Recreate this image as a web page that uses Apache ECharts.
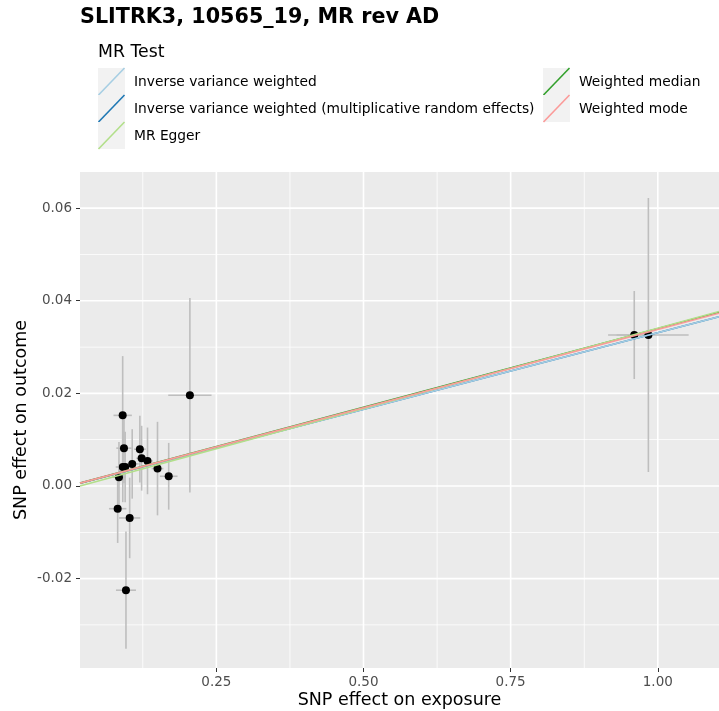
<!DOCTYPE html>
<html><head><meta charset="utf-8">
<script src="https://cdn.jsdelivr.net/npm/echarts@6/dist/echarts.min.js"></script>
<style>html,body{margin:0;padding:0;background:#fff}#c{width:719px;height:711px}</style>
</head><body><div id="c"></div>
<script>
// SNP effects
const snpExposure = [0.0908, 0.093, 0.120, 0.123, 0.133, 0.107, 0.091, 0.095, 0.150, 0.0845, 0.169, 0.0823, 0.1027, 0.0964, 0.205, 0.960, 0.984];
const snpOutcome  = [0.01525, 0.00817, 0.00795, 0.0060, 0.00542, 0.00477, 0.0041, 0.0041, 0.00376, 0.0019, 0.0021, -0.0049, -0.0069, -0.0225, 0.0196, 0.0326, 0.0326];
const seExposure  = [0.0156, 0.013, 0.010, 0.009, 0.009, 0.011, 0.012, 0.010, 0.010, 0.012, 0.015, 0.0148, 0.018, 0.017, 0.0368, 0.030, 0.0684];
const seOutcome   = [0.0128, 0.0076, 0.0072, 0.0070, 0.0072, 0.0075, 0.0076, 0.0076, 0.0101, 0.0076, 0.0072, 0.0074, 0.0087, 0.01265, 0.021, 0.0095, 0.0296];

// MR methods
const methodNames = ['Inverse variance weighted', 'Inverse variance weighted (multiplicative random effects)', 'MR Egger', 'Weighted median', 'Weighted mode'];
const methodSlopes = [0.0331, 0.0331, 0.0347, 0.0340, 0.0338];
const methodIntercepts = [0, 0, -0.00064, 0, 0];
const methodColors = ['#A6CEE3', '#1F78B4', '#B2DF8A', '#33A02C', '#FB9A99'];
const drawOrder = [1, 0, 3, 2, 4];

// axes
const xTicks = [0.25, 0.5, 0.75, 1.0];
const xMinorGrid = [0.125, 0.375, 0.625, 0.875];
const yTicks = [-0.02, 0, 0.02, 0.04, 0.06];
const yMinorGrid = [-0.03, -0.01, 0.01, 0.03, 0.05];
const xRange = [0.0183, 1.104];
const yRange = [-0.0393, 0.0678];

const FONT = 'DejaVu Sans';
const chart = echarts.init(document.getElementById('c'), null, {renderer: 'canvas'});

const errData = snpExposure.map((x, i) => [x, snpOutcome[i], seExposure[i], seOutcome[i]]);

const lineSeries = drawOrder.map(i => ({
  type: 'line', name: methodNames[i], z: 6, silent: true, animation: false,
  showSymbol: false, symbol: 'none',
  lineStyle: {color: methodColors[i], width: 1.6},
  data: xRange.map(x => [x, methodIntercepts[i] + methodSlopes[i] * x])
}));

const graphics = [{
  type: 'text', left: 98, top: 44,
  style: {text: 'MR Test', font: '17.3px "DejaVu Sans"', fill: '#000'}
}];
methodNames.forEach((name, i) => {
  const col = i < 3 ? 0 : 1, row = i % 3;
  const bx = [98, 543][col], by = 68 + row * 27;
  graphics.push({type: 'rect', shape: {x: bx, y: by, width: 27, height: 27}, style: {fill: '#F2F2F2'}});
  graphics.push({type: 'line', shape: {x1: bx + 0.5, y1: by + 27, x2: bx + 26.5, y2: by}, style: {stroke: methodColors[i], lineWidth: 1.6}});
  graphics.push({type: 'text', x: [134, 579][col], y: by + 14.5,
    style: {text: name, font: '13.8px "DejaVu Sans"', fill: '#000', verticalAlign: 'middle'}});
});

function gridRenderer(params, api) {
  const cs = params.coordSys;
  const children = [];
  const vLine = (v, w) => {
    const p = api.coord([v, (yRange[0] + yRange[1]) / 2]);
    children.push({type: 'rect', shape: {x: p[0] - w / 2, y: cs.y, width: w, height: cs.height}, style: {fill: '#fff'}});
  };
  const hLine = (v, w) => {
    const p = api.coord([(xRange[0] + xRange[1]) / 2, v]);
    children.push({type: 'rect', shape: {x: cs.x, y: p[1] - w / 2, width: cs.width, height: w}, style: {fill: '#fff'}});
  };
  yMinorGrid.forEach(v => hLine(v, 0.8));
  xMinorGrid.forEach(v => vLine(v, 0.8));
  yTicks.forEach(v => hLine(v, 1.6));
  xTicks.forEach(v => vLine(v, 1.6));
  return {type: 'group', children};
}

chart.setOption({
  animation: false,
  backgroundColor: '#fff',
  title: {text: 'SLITRK3, 10565_19, MR rev AD', left: 75, top: 2,
    textStyle: {fontFamily: FONT, fontSize: 20.7, fontWeight: 'bold', color: '#000'}},
  graphic: graphics,
  grid: {left: 80, right: 0, top: 172, bottom: 43, show: true, backgroundColor: '#EBEBEB', borderWidth: 0,
    containLabel: false, outerBoundsMode: 'none'},
  xAxis: {
    type: 'value', min: xRange[0], max: xRange[1],
    name: 'SNP effect on exposure', nameLocation: 'middle', nameGap: 23, nameMoveOverlap: false,
    nameTextStyle: {fontFamily: FONT, fontSize: 17.5, color: '#000'},
    axisLine: {show: false, onZero: false},
    axisTick: {show: true, length: 4, customValues: xTicks, lineStyle: {color: '#333', width: 1}},
    axisLabel: {customValues: xTicks, formatter: v => v.toFixed(2), margin: 7,
      fontFamily: FONT, fontSize: 13.5, color: '#4D4D4D'},
    splitLine: {show: false}
  },
  yAxis: {
    type: 'value', min: yRange[0], max: yRange[1],
    name: 'SNP effect on outcome', nameLocation: 'middle', nameGap: 50, nameMoveOverlap: false,
    nameTextStyle: {fontFamily: FONT, fontSize: 17.5, color: '#000'},
    axisLine: {show: false, onZero: false},
    axisTick: {show: true, length: 4, customValues: yTicks, lineStyle: {color: '#333', width: 1}},
    axisLabel: {customValues: yTicks, formatter: v => v.toFixed(2), margin: 8,
      fontFamily: FONT, fontSize: 13.5, color: '#4D4D4D'},
    splitLine: {show: false}
  },
  series: [
    {
      type: 'custom', z: 2, silent: true, data: [[(xRange[0] + xRange[1]) / 2, (yRange[0] + yRange[1]) / 2]],
      renderItem: gridRenderer
    },
    {
      type: 'custom', z: 3, silent: true, data: errData,
      renderItem: (params, api) => {
        const x = api.value(0), y = api.value(1), sx = api.value(2), sy = api.value(3);
        const l = api.coord([x - sx, y]), r = api.coord([x + sx, y]);
        const t = api.coord([x, y + sy]), b = api.coord([x, y - sy]);
        return {type: 'group', children: [
          {type: 'line', shape: {x1: l[0], y1: l[1], x2: r[0], y2: r[1]}, style: {stroke: '#BEBEBE', lineWidth: 1.6}},
          {type: 'line', shape: {x1: t[0], y1: t[1], x2: b[0], y2: b[1]}, style: {stroke: '#BEBEBE', lineWidth: 1.6}}
        ]};
      }
    },
    {
      type: 'scatter', z: 4, silent: true, symbolSize: 8,
      itemStyle: {color: '#000', opacity: 1},
      data: snpExposure.map((x, i) => [x, snpOutcome[i]])
    },
    ...lineSeries
  ]
});
</script></body></html>
